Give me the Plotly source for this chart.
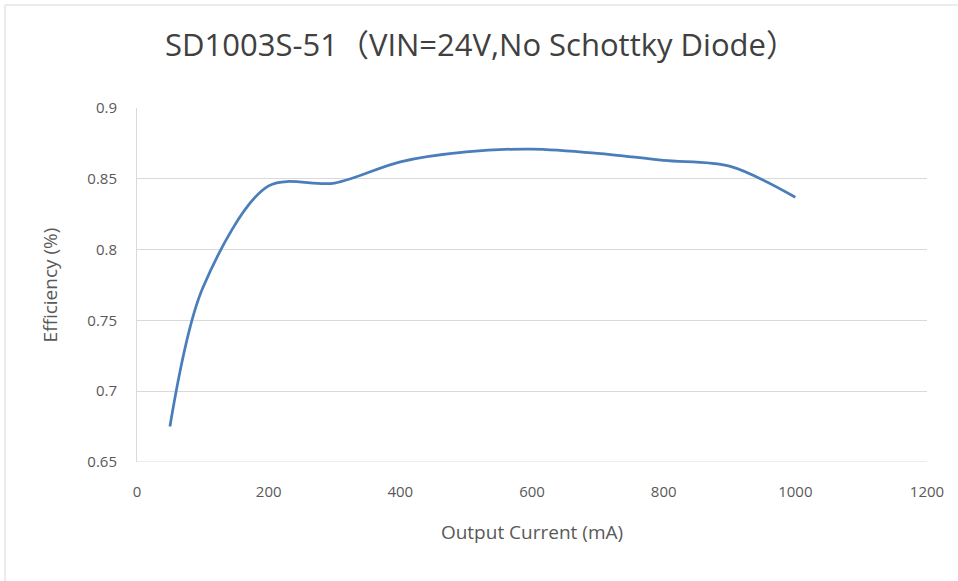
import plotly.graph_objects as go

current_ma = [50, 100, 200, 300, 400, 500, 600, 700, 800, 900, 1000]
efficiency = [0.675, 0.773, 0.845, 0.847, 0.862, 0.869, 0.871, 0.868, 0.863, 0.859, 0.837]

x_ticks = [0, 200, 400, 600, 800, 1000, 1200]
y_ticks = [0.65, 0.7, 0.75, 0.8, 0.85, 0.9]
y_tick_labels = ["0.65", "0.7", "0.75", "0.8", "0.85", "0.9"]

title_text = "SD1003S-51（VIN=24V,No Schottky Diode）"
font_family = "Open Sans, Noto Sans CJK SC, sans-serif"

fig = go.Figure()
fig.add_trace(go.Scatter(
    x=current_ma, y=efficiency, mode="lines",
    line=dict(color="#4A7EBB", width=2.75, shape="spline", smoothing=0.9),
    showlegend=False, hoverinfo="x+y",
))

fig.update_layout(
    width=958, height=581,
    margin=dict(l=137, r=31, t=108, b=119),
    paper_bgcolor="white", plot_bgcolor="white",
    font=dict(family=font_family, color="#595959", size=15),
    title=dict(text=title_text, x=481 / 958, xanchor="center", y=1 - 45 / 581, yanchor="middle",
               font=dict(size=31, color="#404040", family=font_family)),
    xaxis=dict(range=[0, 1200], tickvals=x_ticks, ticktext=[str(v) for v in x_ticks],
               showgrid=False, zeroline=False, showline=False,
               ticks="", ticklabelstandoff=19,
               title=dict(text="Output Current (mA)", standoff=25,
                          font=dict(size=19, color="#595959"))),
    yaxis=dict(range=[0.65, 0.9], tickvals=y_ticks, ticktext=y_tick_labels,
               showgrid=True, gridcolor="#D9D9D9", gridwidth=1,
               zeroline=False, showline=True, linecolor="#D9D9D9", linewidth=1,
               ticks="", ticklabelstandoff=16,
               title=dict(text="Efficiency (%)", standoff=24,
                          font=dict(size=19, color="#595959"))),
    shapes=[
        dict(type="line", xref="x", yref="y", x0=0, x1=1200, y0=0.65, y1=0.65,
             line=dict(color="#D9D9D9", width=1), layer="below"),
        dict(type="rect", xref="paper", yref="paper",
             x0=(5 - 137) / 790, x1=(970 - 137) / 790,
             y0=-(590 - 462) / 354, y1=1 + (108 - 5) / 354,
             line=dict(color="#D9D9D9", width=1), fillcolor="rgba(0,0,0,0)", layer="below"),
    ],
)

fig.write_html("out.html", config={"displayModeBar": False},
               post_script="document.body.style.margin='0';")
